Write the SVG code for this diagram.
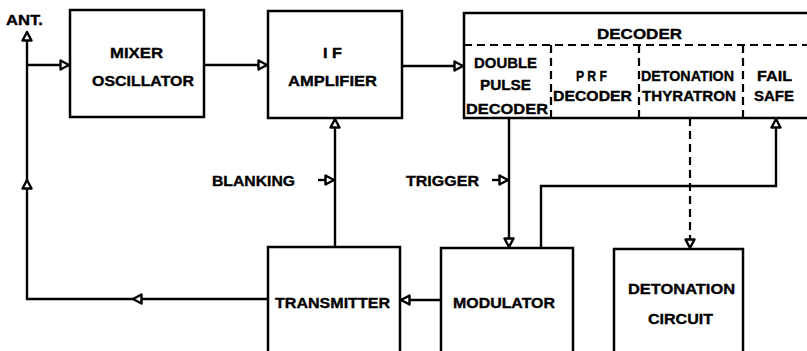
<svg xmlns="http://www.w3.org/2000/svg" width="807" height="351" viewBox="0 0 807 351">
<style>
.box{fill:none;stroke:#000;stroke-width:2.5}
.ln{fill:none;stroke:#000;stroke-width:2.4}
.dash{fill:none;stroke:#000;stroke-width:2.2;stroke-dasharray:8 5}
text{font-family:"Liberation Sans",Arial,sans-serif;font-weight:bold;font-size:15px;fill:#000;stroke:#000;stroke-width:0.35}
.arr{marker-end:url(#ah)}
</style>
<defs>
<marker id="ah" markerUnits="userSpaceOnUse" markerWidth="14" markerHeight="14" refX="10" refY="6" orient="auto" style="overflow:visible">
<path d="M1.5,1.5 L10,6 L1.5,10.5 Z" fill="#fff" stroke="#000" stroke-width="2.4" stroke-linejoin="round"/>
</marker>
</defs>
<rect width="807" height="351" fill="#fff"/>

<g id="connectors">
<path class="ln arr" d="M268,299 H133"/>
<path class="ln arr" d="M133,299 H27 V180"/>
<path class="ln arr" d="M27,180 V32"/>
<path class="ln arr" d="M27,65 H69"/>
<path class="ln arr" d="M204,65 H267"/>
<path class="ln arr" d="M402,66 H463"/>
<path class="ln arr" d="M335,247 V119"/>
<path class="ln arr" d="M318,180 H334"/>
<path class="ln arr" d="M509,118 V247"/>
<path class="ln arr" d="M492,180 H508"/>
<path class="ln arr" d="M541,248 V186 H776 V119"/>
<path class="dash arr" d="M690,118 V248"/>
<path class="ln arr" d="M441,300 H401"/>
</g>

<g id="ant">
<text x="6" y="25" textLength="37" lengthAdjust="spacingAndGlyphs" style="font-size:14px">ANT.</text>
</g>

<g id="mixer">
<rect class="box" x="70" y="10" width="134" height="107"/>
<text x="110" y="57.5" textLength="53" lengthAdjust="spacingAndGlyphs">MIXER</text>
<text x="92" y="85.5" textLength="102" lengthAdjust="spacingAndGlyphs">OSCILLATOR</text>
</g>

<g id="if">
<rect class="box" x="268" y="11" width="134" height="107"/>
<text x="323" y="57.5" textLength="19" lengthAdjust="spacingAndGlyphs">I F</text>
<text x="288" y="85.5" textLength="89" lengthAdjust="spacingAndGlyphs">AMPLIFIER</text>
</g>

<g id="decoder">
<path class="box" d="M812,13 H464 V118 H812"/>
<path class="dash" d="M464,45 H807"/>
<path class="dash" d="M551,45 V118"/>
<path class="dash" d="M639,45 V118"/>
<path class="dash" d="M743,45 V118"/>
<text x="597" y="38.5" textLength="85" lengthAdjust="spacingAndGlyphs">DECODER</text>
<text x="474" y="68" textLength="63" lengthAdjust="spacingAndGlyphs">DOUBLE</text>
<text x="480" y="89.5" textLength="51" lengthAdjust="spacingAndGlyphs">PULSE</text>
<text x="466" y="113.5" textLength="82" lengthAdjust="spacingAndGlyphs">DECODER</text>
<text x="576" y="81" textLength="31" lengthAdjust="spacingAndGlyphs">P R F</text>
<text x="553" y="100.5" textLength="79" lengthAdjust="spacingAndGlyphs">DECODER</text>
<text x="641" y="80.5" textLength="93" lengthAdjust="spacingAndGlyphs">DETONATION</text>
<text x="642" y="100.5" textLength="94" lengthAdjust="spacingAndGlyphs">THYRATRON</text>
<text x="757" y="81" textLength="35" lengthAdjust="spacingAndGlyphs">FAIL</text>
<text x="754" y="100.5" textLength="40" lengthAdjust="spacingAndGlyphs">SAFE</text>
</g>

<g id="labels">
<text x="212" y="185.5" textLength="83" lengthAdjust="spacingAndGlyphs">BLANKING</text>
<text x="406" y="185.5" textLength="73" lengthAdjust="spacingAndGlyphs">TRIGGER</text>
</g>

<g id="transmitter">
<rect class="box" x="268" y="247" width="132" height="115"/>
<text x="275" y="307.5" textLength="115" lengthAdjust="spacingAndGlyphs">TRANSMITTER</text>
</g>

<g id="modulator">
<rect class="box" x="441" y="248" width="132" height="115"/>
<text x="453" y="307.5" textLength="102" lengthAdjust="spacingAndGlyphs">MODULATOR</text>
</g>

<g id="detonation-circuit">
<rect class="box" x="614" y="249" width="129" height="115"/>
<text x="628" y="293.5" textLength="107" lengthAdjust="spacingAndGlyphs">DETONATION</text>
<text x="648" y="323.5" textLength="65" lengthAdjust="spacingAndGlyphs">CIRCUIT</text>
</g>
</svg>
